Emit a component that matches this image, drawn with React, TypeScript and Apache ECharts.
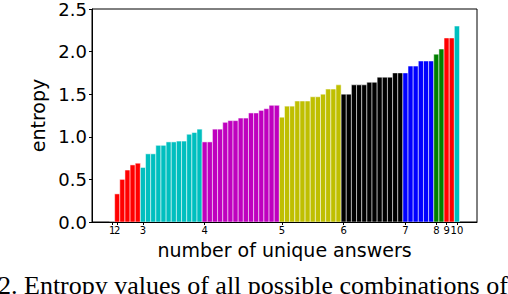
import React, { useEffect, useRef } from "react";
import * as echarts from "echarts";

// entropy values per "number of unique answers" group
const entropy1 = [0];
const entropy2 = [0.33, 0.5, 0.61, 0.67, 0.69];
const entropy3 = [0.64, 0.8, 0.8, 0.9, 0.9, 0.94, 0.94, 0.95, 0.95, 1.03, 1.05, 1.09];
const entropy4 = [0.94, 0.94, 1.09, 1.09, 1.17, 1.19, 1.19, 1.22, 1.22, 1.28, 1.28, 1.31, 1.33, 1.37, 1.37];
const entropy5 = [1.23, 1.36, 1.36, 1.42, 1.42, 1.42, 1.47, 1.47, 1.5, 1.56, 1.56, 1.61];
const entropy6 = [1.5, 1.5, 1.61, 1.61, 1.61, 1.64, 1.64, 1.7, 1.7, 1.7, 1.75, 1.75];
const entropy7 = [1.75, 1.83, 1.83, 1.89, 1.89, 1.89];
const entropy8 = [1.97, 2.03];
const entropy9 = [2.16, 2.16];
const entropy10 = [2.3];

const groups = [entropy1, entropy2, entropy3, entropy4, entropy5, entropy6, entropy7, entropy8, entropy9, entropy10];
const tickLabels = ["1", "2", "3", "4", "5", "6", "7", "8", "9", "10"];
const groupColors = ["#ff0000", "#ff0000", "#00bfbf", "#bf00bf", "#bfbf00", "#000000", "#0000ff", "#008000", "#ff0000", "#00bfbf"];
const yTickValues = [0, 0.5, 1, 1.5, 2, 2.5];
const caption = "2. Entropy values of all possible combinations of";

const FONT = "DejaVu Sans";

export default function App() {
  const ref = useRef<HTMLDivElement>(null);
  useEffect(() => {
    if (!ref.current) return;
    const chart = echarts.init(ref.current, undefined, { renderer: "svg" });
    const data: number[][] = [];
    const tickPositions: number[] = [];
    let idx = 0;
    groups.forEach((g, gi) => {
      tickPositions.push(idx);
      g.forEach((v) => {
        data.push([idx, v, gi]);
        idx++;
      });
    });
    const n = data.length;
    const margin = 0.05 * n;
    const xMin = -0.5 - margin;
    const xMax = n - 0.5 + margin;
    const labelFmt = (v: number) => {
      const i = tickPositions.indexOf(Math.round(v));
      return i >= 0 ? tickLabels[i] : "";
    };
    const labelStyle = { fontSize: 10, fontFamily: FONT, color: "#000", margin: 3, hideOverlap: false };
    // second label set for the tick that collides with its neighbour
    const mainLabelTicks = tickPositions.filter((_, i) => i !== 1);
    const extraLabelTicks = [tickPositions[1]];
    chart.setOption({
      animation: false,
      backgroundColor: "#ffffff",
      grid: {
        left: 92,
        top: 8,
        width: 385,
        height: 214,
        show: true,
        borderColor: "#000",
        borderWidth: 1,
        containLabel: false,
      },
      xAxis: [
        {
          type: "value",
          min: xMin,
          max: xMax,
          position: "bottom",
          splitLine: { show: false },
          axisLine: { show: true, onZero: false, lineStyle: { color: "#000", width: 1 } },
          axisTick: { show: true, customValues: tickPositions, length: 3, lineStyle: { color: "#000" } },
          axisLabel: { ...labelStyle, customValues: mainLabelTicks, formatter: labelFmt, showMinLabel: true },
          name: "number of unique answers",
          nameLocation: "middle",
          nameGap: 18,
          nameTextStyle: { fontSize: 19, fontFamily: FONT, color: "#000" },
        },
        {
          type: "value",
          min: xMin,
          max: xMax,
          position: "bottom",
          offset: 0,
          splitLine: { show: false },
          axisLine: { show: false, onZero: false },
          axisTick: { show: false },
          axisLabel: { ...labelStyle, customValues: extraLabelTicks, formatter: labelFmt },
        },
      ],
      yAxis: {
        type: "value",
        min: 0,
        max: 2.5,
        interval: 0.5,
        splitLine: { show: false },
        axisLine: { show: true, onZero: false, lineStyle: { color: "#000", width: 1 } },
        axisTick: { show: true, length: 3, lineStyle: { color: "#000" } },
        axisLabel: {
          formatter: (v: number) => (yTickValues.indexOf(v) >= 0 ? v.toFixed(1) : ""),
          fontSize: 18,
          fontFamily: FONT,
          color: "#000",
          margin: 5,
        },
        name: "entropy",
        nameLocation: "middle",
        nameGap: 42,
        nameRotate: 90,
        nameTextStyle: { fontSize: 19, fontFamily: FONT, color: "#000" },
      },
      graphic: [
        {
          type: "text",
          x: -2,
          y: 272,
          style: {
            text: caption,
            fontSize: 26,
            fontFamily: "Liberation Serif",
            fill: "#000",
            verticalAlign: "top",
            align: "left",
          },
        },
      ],
      series: [
        {
          type: "custom",
          coordinateSystem: "cartesian2d",
          xAxisIndex: 0,
          yAxisIndex: 0,
          encode: { x: 0, y: 1 },
          data,
          clip: true,
          renderItem: (params: any, api: any) => {
            const x = api.value(0);
            const v = api.value(1);
            const g = api.value(2);
            const p0 = api.coord([x - 0.5, v]);
            const p1 = api.coord([x + 0.5, 0]);
            return {
              type: "rect",
              shape: { x: p0[0], y: p0[1], width: p1[0] - p0[0], height: p1[1] - p0[1] },
              style: { fill: groupColors[g], stroke: "#ffffff", lineWidth: 0.5 },
            };
          },
        },
      ],
    });
    return () => chart.dispose();
  }, []);
  return (
    <div
      ref={ref}
      style={{ position: "absolute", left: 0, top: 0, width: 508, height: 294, background: "#fff" }}
    />
  );
}
